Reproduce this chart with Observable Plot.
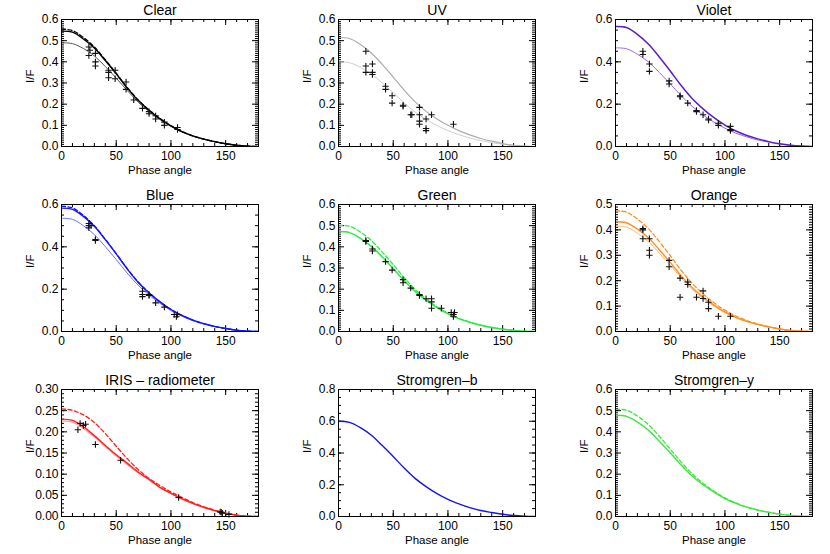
<!DOCTYPE html>
<html><head><meta charset="utf-8">
<script src="https://cdn.jsdelivr.net/npm/d3@7"></script>
<script src="https://cdn.jsdelivr.net/npm/@observablehq/plot@0.6"></script>
<style>
body{margin:0;background:#fff;width:830px;height:554px;overflow:hidden;font-family:"Liberation Sans",Arial,sans-serif}
#grid{display:grid;grid-template-columns:277px 277px 276px;grid-template-rows:185px 185px 184px}
#grid svg{display:block}
</style></head><body><div id="grid"></div>
<script>
// Phase angles (deg) at which model curves are read
const angles = [0,10,20,30,40,50,60,70,80,90,100,110,120,130,140,150,160,170,180];
const xTicks = [0,50,100,150];

// Clear
const clearDashed = [0.555,0.548,0.515,0.470,0.410,0.346,0.279,0.220,0.172,0.132,0.098,0.071,0.050,0.035,0.023,0.013,0.006,0.002,0];
const clearSolid  = [0.545,0.540,0.508,0.465,0.406,0.343,0.277,0.218,0.171,0.131,0.097,0.070,0.050,0.035,0.023,0.013,0.006,0.002,0];
const clearThin   = [0.490,0.486,0.463,0.428,0.378,0.323,0.265,0.210,0.165,0.127,0.095,0.069,0.049,0.034,0.022,0.012,0.005,0.001,0];
const clearPts = [[25,0.47],[26,0.455],[25,0.43],[31,0.44],[31,0.40],[31,0.38],[43,0.36],[43,0.35],[43,0.325],[49,0.36],[49,0.32],[59,0.305],[59,0.27],[66,0.22],[74,0.18],[80,0.165],[80,0.155],[86,0.145],[86,0.13],[94,0.115],[94,0.10],[106,0.09],[106,0.08]];
// UV
const uvUpper = [0.515,0.510,0.482,0.442,0.388,0.328,0.266,0.211,0.166,0.130,0.100,0.075,0.055,0.038,0.025,0.014,0.006,0.002,0];
const uvLower = [0.400,0.396,0.374,0.342,0.300,0.254,0.206,0.163,0.128,0.099,0.075,0.056,0.040,0.028,0.018,0.010,0.004,0.001,0];
const uvPts = [[25,0.45],[25,0.38],[25,0.35],[31,0.39],[31,0.35],[31,0.34],[43,0.285],[43,0.27],[49,0.24],[49,0.205],[59,0.195],[59,0.19],[66,0.15],[67,0.15],[74,0.185],[74,0.15],[74,0.12],[74,0.105],[80,0.13],[80,0.085],[80,0.075],[85,0.15],[105,0.105]];
// Violet
const violetThick = [0.567,0.562,0.530,0.484,0.423,0.357,0.288,0.227,0.178,0.136,0.101,0.073,0.052,0.036,0.023,0.013,0.006,0.002,0];
const violetThin  = [0.466,0.462,0.436,0.400,0.350,0.296,0.240,0.190,0.149,0.115,0.086,0.063,0.045,0.031,0.020,0.011,0.005,0.001,0];
const violetPts = [[25,0.45],[25,0.435],[31,0.39],[31,0.355],[49,0.31],[49,0.295],[59,0.24],[59,0.235],[66,0.205],[74,0.17],[74,0.165],[80,0.15],[85,0.13],[85,0.125],[94,0.11],[94,0.10],[105,0.095],[105,0.08],[105,0.075]];
// Blue
const blueSolid  = [0.583,0.577,0.544,0.497,0.434,0.367,0.296,0.233,0.182,0.140,0.104,0.076,0.054,0.037,0.024,0.014,0.006,0.002,0];
const blueDashed = [0.592,0.584,0.549,0.500,0.436,0.368,0.297,0.234,0.183,0.140,0.104,0.076,0.054,0.037,0.024,0.014,0.006,0.002,0];
const blueThin   = [0.535,0.530,0.500,0.458,0.401,0.340,0.276,0.219,0.172,0.133,0.099,0.072,0.051,0.035,0.023,0.013,0.005,0.002,0];
const bluePts = [[25,0.51],[25,0.50],[25,0.49],[27,0.50],[31,0.435],[31,0.43],[74,0.19],[74,0.175],[74,0.165],[80,0.175],[80,0.17],[86,0.135],[94,0.115],[103,0.08],[105,0.07],[106,0.08]];
// Green
const greenSolid  = [0.472,0.467,0.440,0.402,0.352,0.297,0.240,0.189,0.148,0.113,0.084,0.061,0.044,0.030,0.019,0.011,0.005,0.001,0];
const greenDashed = [0.502,0.497,0.470,0.430,0.375,0.316,0.254,0.199,0.154,0.117,0.086,0.062,0.044,0.030,0.019,0.011,0.005,0.001,0];
const greenPts = [[25,0.43],[25,0.425],[31,0.39],[31,0.38],[43,0.33],[49,0.29],[59,0.245],[59,0.23],[66,0.205],[74,0.175],[74,0.17],[80,0.155],[85,0.155],[85,0.14],[85,0.11],[94,0.11],[103,0.09],[105,0.08],[105,0.07],[106,0.09]];
// Orange
const orangeSolid  = [0.432,0.428,0.403,0.369,0.322,0.272,0.219,0.173,0.135,0.104,0.077,0.056,0.040,0.028,0.018,0.010,0.004,0.001,0];
const orangeThin   = [0.415,0.411,0.387,0.354,0.309,0.261,0.211,0.166,0.130,0.100,0.074,0.054,0.039,0.027,0.017,0.009,0.004,0.001,0];
const orangeDashed = [0.475,0.470,0.443,0.405,0.354,0.299,0.241,0.190,0.148,0.113,0.084,0.061,0.043,0.029,0.019,0.010,0.004,0.001,0];
const orangePts = [[25,0.405],[25,0.40],[25,0.365],[31,0.365],[31,0.32],[31,0.30],[49,0.28],[49,0.255],[59,0.21],[59,0.135],[66,0.195],[66,0.185],[74,0.135],[80,0.16],[80,0.13],[85,0.115],[85,0.09],[94,0.06],[105,0.06]];
// IRIS - radiometer
const irisSolid  = [0.230,0.227,0.212,0.191,0.168,0.146,0.126,0.105,0.088,0.069,0.055,0.042,0.031,0.022,0.014,0.008,0.003,0.001,0];
const irisThin   = [0.226,0.223,0.208,0.188,0.165,0.143,0.123,0.103,0.086,0.068,0.054,0.041,0.030,0.021,0.014,0.008,0.003,0.001,0];
const irisDashed = [0.254,0.251,0.240,0.222,0.196,0.166,0.137,0.111,0.090,0.073,0.058,0.045,0.033,0.023,0.015,0.008,0.003,0.001,0];
const irisPts = [[15,0.205],[17,0.22],[20,0.215],[22,0.218],[31,0.17],[54,0.133],[107,0.045],[145,0.011],[146,0.01],[147,0.008],[153,0.005]];
// Stromgren-b
const sbSolid = [0.600,0.593,0.560,0.512,0.447,0.378,0.305,0.240,0.188,0.144,0.108,0.080,0.056,0.038,0.025,0.014,0.006,0.002,0];
// Stromgren-y
const sySolid  = [0.478,0.473,0.446,0.408,0.356,0.301,0.243,0.191,0.150,0.115,0.085,0.062,0.044,0.030,0.020,0.011,0.005,0.001,0];
const syDashed = [0.507,0.502,0.475,0.434,0.379,0.319,0.257,0.202,0.157,0.119,0.088,0.064,0.045,0.030,0.020,0.011,0.005,0.001,0];

// y tick labels per panel
const yT1 = [0,0.1,0.2,0.3,0.4,0.5,0.6];
const yT2 = [0,0.2,0.4,0.6];
const yT05 = [0,0.1,0.2,0.3,0.4,0.5];
const yTiris = [0,0.05,0.10,0.15,0.20,0.25,0.30];
const yT8 = [0,0.2,0.4,0.6,0.8];

const panels = [
  {title:"Clear", yMax:0.6, yTicks:yT1, minor:0.01, fmt:".1f", pts:clearPts, lines:[
    {v:clearThin, c:"#555555", w:1},
    {v:clearDashed, c:"#000000", w:1.3, d:"4,2.5"},
    {v:clearSolid, c:"#000000", w:1.4}]},
  {title:"UV", yMax:0.6, yTicks:yT1, minor:0.01, fmt:".1f", pts:uvPts, lines:[
    {v:uvLower, c:"#cfcfcf", w:1},
    {v:uvUpper, c:"#adadad", w:1.2}]},
  {title:"Violet", yMax:0.6, yTicks:yT2, minor:0.05, fmt:".1f", pts:violetPts, lines:[
    {v:violetThin, c:"#9a6ae6", w:1},
    {v:violetThick, c:"#5a1ec8", w:1.5}]},
  {title:"Blue", yMax:0.6, yTicks:yT2, minor:0.05, fmt:".1f", pts:bluePts, lines:[
    {v:blueThin, c:"#6f6fff", w:1},
    {v:blueDashed, c:"#1414ff", w:1.3, d:"4,2.5"},
    {v:blueSolid, c:"#1414ff", w:1.4}]},
  {title:"Green", yMax:0.6, yTicks:yT1, minor:0.01, fmt:".1f", pts:greenPts, lines:[
    {v:greenDashed, c:"#2ee84a", w:1.3, d:"4,2.5"},
    {v:greenSolid, c:"#2ee84a", w:1.5}]},
  {title:"Orange", yMax:0.5, yTicks:yT05, minor:0.01, fmt:".1f", pts:orangePts, lines:[
    {v:orangeThin, c:"#ffb870", w:1},
    {v:orangeDashed, c:"#ff9020", w:1.3, d:"4,2.5"},
    {v:orangeSolid, c:"#ff9020", w:1.4}]},
  {title:"IRIS \u2013 radiometer", yMax:0.3, yTicks:yTiris, minor:0.01, fmt:".2f", pts:irisPts, lines:[
    {v:irisThin, c:"#ff9a9a", w:1.2},
    {v:irisDashed, c:"#ff2020", w:1.3, d:"4,2.5"},
    {v:irisSolid, c:"#ff2020", w:1.4}]},
  {title:"Stromgren\u2013b", yMax:0.8, yTicks:yT8, minor:0.05, fmt:".1f", pts:[], lines:[
    {v:sbSolid, c:"#1515e6", w:1.4}]},
  {title:"Stromgren\u2013y", yMax:0.6, yTicks:yT1, minor:0.01, fmt:".1f", pts:[], lines:[
    {v:syDashed, c:"#3ee83e", w:1.3, d:"4,2.5"},
    {v:sySolid, c:"#3ee83e", w:1.4}]}
];

const grid = document.getElementById("grid");
panels.forEach((p, i) => {
  const col = i % 3, row = Math.floor(i / 3);
  const W = col === 2 ? 276 : 277;
  const H = row === 2 ? 184 : 185;
  const mL = 61, mR = col === 2 ? 18 : 19, mT = 19, mB = H - 19 - 127;
  const bw = W - mL - mR, bh = H - mT - mB;
  const xMinor = d3.range(0, 181, 10);
  const yMinor = d3.range(0, p.yMax + 1e-9, p.minor).map(v => +v.toFixed(4));
  const marks = [];
  // tick marks, IDL style: inward on all four sides
  marks.push(Plot.ruleX(xMinor, {x: d => d, insetTop: bh - 3, stroke: "#000"}));
  marks.push(Plot.ruleX(xMinor, {x: d => d, insetBottom: bh - 3, stroke: "#000"}));
  marks.push(Plot.ruleX(xTicks, {x: d => d, insetTop: bh - 6, stroke: "#000"}));
  marks.push(Plot.ruleX(xTicks, {x: d => d, insetBottom: bh - 6, stroke: "#000"}));
  marks.push(Plot.ruleY(yMinor, {y: d => d, insetRight: bw - 3, stroke: "#000"}));
  marks.push(Plot.ruleY(yMinor, {y: d => d, insetLeft: bw - 3, stroke: "#000"}));
  marks.push(Plot.ruleY(p.yTicks, {y: d => d, insetRight: bw - 6, stroke: "#000"}));
  marks.push(Plot.ruleY(p.yTicks, {y: d => d, insetLeft: bw - 6, stroke: "#000"}));
  // curves
  p.lines.forEach(l => {
    marks.push(Plot.line(angles.map((a, k) => ({a, v: l.v[k]})), {
      x: "a", y: "v", stroke: l.c, strokeWidth: l.w, curve: "catmull-rom",
      strokeDasharray: l.d || null, clip: true
    }));
  });
  // observations
  if (p.pts.length) marks.push(Plot.dot(p.pts, {x: d => d[0], y: d => d[1], symbol: "plus", r: 2.2, stroke: "#111", strokeWidth: 1.1}));
  marks.push(Plot.frame({stroke: "#000", strokeWidth: 1}));
  marks.push(Plot.axisX(xTicks, {tickSize: 0, tickPadding: 5, label: null, fontSize: 12}));
  marks.push(Plot.axisY(p.yTicks, {tickSize: 0, tickPadding: 3, tickFormat: d3.format(p.fmt), label: null, fontSize: 12}));
  marks.push(Plot.text([p.title], {text: d => d, frameAnchor: "top", lineAnchor: "middle", dy: -9, fontSize: 14}));
  marks.push(Plot.text(["Phase angle"], {text: d => d, frameAnchor: "bottom", lineAnchor: "middle", dy: 24, fontSize: 11.5}));
  marks.push(Plot.text(["I/F"], {text: d => d, frameAnchor: "left", lineAnchor: "middle", dx: -31, rotate: -90, fontSize: 11.5}));
  const chart = Plot.plot({
    width: W, height: H,
    marginLeft: mL, marginRight: mR, marginTop: mT, marginBottom: mB,
    x: {domain: [0, 180]},
    y: {domain: [0, p.yMax]},
    style: {fontFamily: "'Liberation Sans', Arial, sans-serif", background: "#fff", color: "#000", overflow: "visible"},
    marks
  });
  grid.appendChild(chart);
});
</script>
</body></html>
